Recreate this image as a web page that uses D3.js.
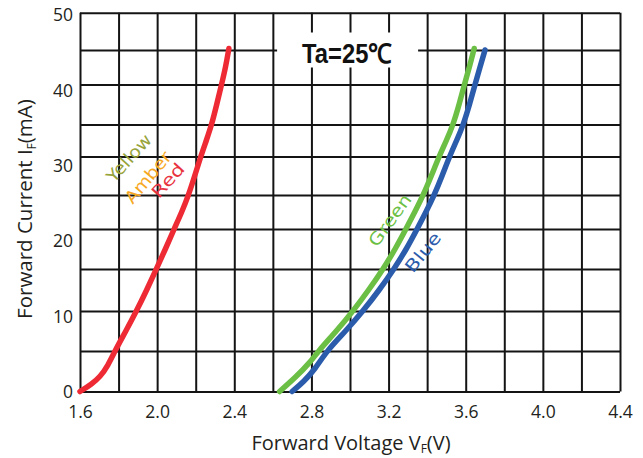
<!DOCTYPE html>
<html>
<head>
<meta charset="utf-8">
<script src="https://cdn.jsdelivr.net/npm/d3@7"></script>
<style>
  body { margin: 0; background: #fff; }
  svg { display: block; }
  text { font-family: "Open Sans", sans-serif; fill: #231f20; }
</style>
</head>
<body>
<svg class="iv-chart"></svg>
<script>
// forward voltage (V) / forward current (mA)
const redV   = [1.60, 1.66, 1.704, 1.745, 1.781, 1.838, 1.893, 1.946, 1.996, 2.043, 2.088, 2.128, 2.163, 2.195, 2.226, 2.255, 2.283, 2.309, 2.334, 2.355, 2.372];
const redI   = [0, 0.9, 1.8, 3.2, 5, 7.5, 10, 12.5, 15, 17.5, 20, 22.5, 25, 27.5, 30, 32.5, 35, 37.5, 40, 42.5, 45.2];
const greenV = [2.635, 2.72, 2.79, 2.836, 2.93, 3.016, 3.097, 3.172, 3.235, 3.29, 3.336, 3.38, 3.422, 3.462, 3.50, 3.535, 3.566, 3.593, 3.619, 3.644];
const greenI = [0, 1.8, 3.5, 5, 7.5, 10, 12.5, 15, 17.5, 20, 22.5, 25, 27.5, 30, 32.5, 35, 37.5, 40, 42.5, 45.2];
const blueV  = [2.70, 2.76, 2.82, 2.879, 2.978, 3.068, 3.152, 3.228, 3.293, 3.348, 3.394, 3.437, 3.478, 3.516, 3.553, 3.588, 3.62, 3.648, 3.674, 3.70];
const blueI  = [0, 1.2, 2.8, 5, 7.5, 10, 12.5, 15, 17.5, 20, 22.5, 25, 27.5, 30, 32.5, 35, 37.5, 40, 42.5, 45];

const xTicks = [1.6, 2.0, 2.4, 2.8, 3.2, 3.6, 4.0, 4.4];
const yTicks = [0, 10, 20, 30, 40, 50];

// curve names and where they sit (V, mA)
const labelNames = ["Yellow", "Amber", "Red", "Green", "Blue"];
const labelV     = [1.854, 1.953, 2.056, 3.207, 3.378];
const labelI     = [29.8, 27.3, 26.9, 21.3, 17.1];

class IVChart {
    createChart() {
        const width = 643, height = 458;
        const svg = d3.select(".iv-chart")
            .attr("width", width)
            .attr("height", height);

        const x = d3.scaleLinear().domain([1.6, 4.4]).range([80, 620]);
        // the scanned grid isn't evenly spaced, so the grid scale is piecewise
        const y = d3.scaleLinear()
            .domain(d3.range(0, 51, 5))
            .range([391.5, 351, 311, 269, 229, 195, 156.5, 124.5, 84.5, 50, 12.7]);
        // the tick numbers follow an even spacing though
        const yLab = d3.scaleLinear().domain([0, 50]).range([392, 15]);

        const plotH = y(0) - y(50);

        // grid
        const gx = svg.append("g")
            .attr("transform", `translate(0,${y(0)})`)
            .call(d3.axisBottom(x)
                .tickValues(d3.range(16, 45, 2).map(d => d / 10))
                .tickSize(-plotH)
                .tickFormat(""));
        const gy = svg.append("g")
            .attr("transform", `translate(${x(1.6)},0)`)
            .call(d3.axisLeft(y)
                .tickValues(d3.range(0, 51, 5))
                .tickSize(-(x(4.4) - x(1.6)))
                .tickFormat(""));
        [gx, gy].forEach(g => {
            g.select(".domain").remove();
            g.selectAll(".tick line").attr("stroke", "#141414").attr("stroke-width", 2);
        });

        // white patch behind the temperature note
        const noteX = x(2.985), noteY = y(45);
        svg.append("rect")
            .attr("x", noteX - 70).attr("y", noteY - 17.5)
            .attr("width", 141).attr("height", 35)
            .attr("fill", "#fff");
        svg.append("text")
            .attr("x", noteX - 45).attr("y", noteY + 13)
            .attr("textLength", 90)
            .attr("lengthAdjust", "spacingAndGlyphs")
            .style("font-family", "'Liberation Sans', Arial, sans-serif")
            .style("font-weight", "bold")
            .style("font-size", "27px")
            .style("fill", "#111")
            .text("Ta=25℃");

        // tick labels
        const ax = svg.append("g")
            .attr("transform", `translate(0,${y(0)})`)
            .call(d3.axisBottom(x).tickValues(xTicks).tickSize(0).tickPadding(14).tickFormat(d3.format(".1f")));
        const ay = svg.append("g")
            .attr("transform", `translate(${x(1.6)},0)`)
            .call(d3.axisLeft(yLab).tickValues(yTicks).tickSize(0).tickPadding(7));
        [ax, ay].forEach(g => {
            g.select(".domain").remove();
            g.selectAll("text")
                .style("font-family", "'Open Sans', sans-serif")
                .style("font-size", "17.5px")
                .style("fill", "#231f20");
        });

        const line = d3.line()
            .x(d => x(d[0]))
            .y(d => y(d[1]))
            .curve(d3.curveBasis);

        const curves = [
            { v: redV, i: redI, color: "#ee2a35" },
            { v: greenV, i: greenI, color: "#6cbf45" },
            { v: blueV, i: blueI, color: "#2b5cab" }
        ];
        svg.selectAll(".curve")
            .data(curves)
            .enter()
            .append("path")
            .attr("class", "curve")
            .attr("d", c => line(d3.zip(c.v, c.i)))
            .attr("fill", "none")
            .attr("stroke", c => c.color)
            .attr("stroke-width", 5.5)
            .attr("stroke-linecap", "round");

        // rotated curve names
        const labelColor = ["#97a33b", "#f7a823", "#e8333f", "#6cbf45", "#2b5cab"];
        const labelAngle = [-48, -50, -48, -54, -51];
        const labelLen   = [58, 62, 40, 60, 46];
        svg.selectAll(".curve-label")
            .data(labelNames)
            .enter()
            .append("text")
            .attr("class", "curve-label")
            .attr("transform", (d, k) => `translate(${x(labelV[k])},${y(labelI[k])}) rotate(${labelAngle[k]})`)
            .attr("text-anchor", "middle")
            .attr("dy", "0.35em")
            .attr("x", 0)
            .attr("textLength", (d, k) => labelLen[k])
            .attr("lengthAdjust", "spacingAndGlyphs")
            .style("font-family", "'DejaVu Sans', sans-serif")
            .style("font-size", "17px")
            .style("fill", (d, k) => labelColor[k])
            .text(d => d);

        // axis titles
        const xt = svg.append("text")
            .attr("x", 351).attr("y", 450)
            .attr("text-anchor", "middle")
            .style("font-size", "20px");
        xt.append("tspan").text("Forward Voltage V");
        xt.append("tspan").attr("dy", 3).style("font-size", "12px").text("F");
        xt.append("tspan").attr("dy", -3).text("(V)");

        const yt = svg.append("text")
            .attr("transform", "translate(32,209) rotate(-90)")
            .attr("text-anchor", "middle")
            .style("font-size", "20.5px");
        yt.append("tspan").text("Forward Current I");
        yt.append("tspan").attr("dy", 4).style("font-size", "12px").text("F");
        yt.append("tspan").attr("dy", -4).text("(mA)");
    }
}

document.addEventListener("DOMContentLoaded", () => {
    new IVChart().createChart();
});
</script>
</body>
</html>
